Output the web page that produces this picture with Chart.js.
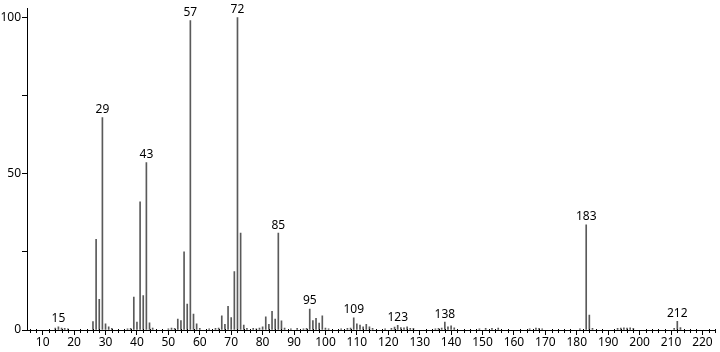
<!DOCTYPE html>
<html>
<head>
<meta charset="utf-8">
<script src="https://cdn.jsdelivr.net/npm/chart.js@4"></script>
<style>
    html, body { margin: 0; padding: 0; background: #fff; }
    #wrap { width: 720px; height: 352px; position: relative; }
</style>
</head>
<body>
<div id="wrap"><canvas id="spectrum"></canvas></div>
<script>
// m/z values and relative intensities
const mz = [14, 15, 16, 17, 18, 26, 27, 28, 29, 30, 31, 32, 37, 38, 39, 40, 41, 42, 43, 44, 45,
    50, 51, 52, 53, 54, 55, 56, 57, 58, 59, 60, 63, 65, 66, 67, 68, 69, 70, 71, 72, 73, 74, 75,
    77, 78, 79, 80, 81, 82, 83, 84, 85, 86, 87, 89, 91, 93, 94, 95, 96, 97, 98, 99, 100, 101,
    105, 107, 108, 109, 110, 111, 112, 113, 114, 115, 119, 121, 122, 123, 124, 125, 126, 127, 128,
    135, 136, 137, 138, 139, 140, 141, 149, 151, 153, 155, 165, 167, 168, 169, 181, 183, 184, 185,
    193, 194, 195, 196, 197, 198, 211, 212, 213];
const intensity = [0.6, 1.0, 0.6, 0.5, 0.4, 2.7, 29, 9.8, 68, 2.0, 1.0, 0.5, 0.4, 0.5, 10.5, 2.5, 41, 11, 53.6, 2.3, 0.6,
    0.4, 0.6, 0.5, 3.5, 3.0, 25, 8.3, 99, 5.1, 2.0, 0.5, 0.4, 0.5, 0.6, 4.5, 1.8, 7.6, 4.0, 18.7, 100, 31, 1.6, 0.5,
    0.5, 0.4, 0.6, 1.0, 4.2, 1.8, 6.0, 3.5, 31, 2.9, 0.6, 0.4, 0.5, 0.4, 0.5, 6.7, 3.0, 3.7, 2.2, 4.5, 0.6, 0.4,
    0.4, 0.5, 0.6, 3.9, 2.0, 1.6, 1.0, 1.8, 1.0, 0.5, 0.4, 0.5, 0.9, 1.5, 0.8, 0.7, 1.0, 0.5, 0.5,
    0.4, 0.5, 0.6, 2.5, 1.0, 1.3, 0.7, 0.4, 0.5, 0.5, 0.6, 0.4, 0.6, 0.5, 0.4, 0.4, 33.7, 4.8, 0.5,
    0.5, 0.6, 0.7, 0.6, 0.7, 0.5, 0.5, 2.8, 0.8];
// peaks that carry their m/z above them
const labelledPeaks = [15, 29, 43, 57, 72, 85, 95, 109, 123, 138, 183, 212];
const xTicks = [10, 20, 30, 40, 50, 60, 70, 80, 90, 100, 110, 120, 130, 140, 150, 160, 170, 180, 190, 200, 210, 220];
const yTicks = [0, 25, 50, 75, 100];
const yLabelled = [0, 50, 100];

const FONT = '"Noto Sans", sans-serif';

const peakLabels = {
    id: 'peakLabels',
    afterDatasetsDraw(chart) {
        const ctx = chart.ctx;
        const xs = chart.scales.x;
        const ys = chart.scales.y;
        ctx.save();
        ctx.font = '12px ' + FONT;
        ctx.fillStyle = '#000';
        ctx.textAlign = 'center';
        ctx.textBaseline = 'bottom';
        labelledPeaks.forEach(m => {
            const i = mz.indexOf(m);
            if (i < 0) return;
            ctx.fillText(String(m), xs.getPixelForValue(m), ys.getPixelForValue(intensity[i]) - 2);
        });
        ctx.restore();
    }
};

// small ticks every 2 units along the x axis
const minorTicks = {
    id: 'minorTicks',
    afterDraw(chart) {
        const ctx = chart.ctx;
        const xs = chart.scales.x;
        const y0 = chart.chartArea.bottom;
        ctx.save();
        ctx.strokeStyle = '#000';
        ctx.lineWidth = 1;
        ctx.beginPath();
        for (let v = 6; v <= 224; v += 2) {
            if (v % 10 === 0) continue;
            const x = Math.round(xs.getPixelForValue(v)) + 0.5;
            ctx.moveTo(x, y0 - 1);
            ctx.lineTo(x, y0 + 3);
        }
        ctx.stroke();
        ctx.restore();
    }
};

new Chart(document.getElementById('spectrum'), {
    type: 'bar',
    data: {
        datasets: [{
            data: mz.map((m, i) => ({ x: m, y: intensity[i] })),
            backgroundColor: '#5a5a5a',
            borderWidth: 0,
            barThickness: 1
        }]
    },
    options: {
        responsive: true,
        maintainAspectRatio: false,
        animation: false,
        events: [],
        layout: { padding: { left: 0, right: 5, top: 8, bottom: 0 } },
        plugins: {
            legend: { display: false },
            tooltip: { enabled: false }
        },
        scales: {
            x: {
                type: 'linear',
                offset: false,
                min: 5,
                max: 224,
                afterBuildTicks: s => { s.ticks = xTicks.map(v => ({ value: v })); },
                afterFit: s => { s.height = 22; },
                grid: { drawOnChartArea: false, offset: false, color: '#000', tickLength: 5 },
                border: { color: '#000', width: 1 },
                ticks: {
                    color: '#000',
                    font: { family: FONT, size: 12 },
                    padding: 0,
                    maxRotation: 0,
                    autoSkip: false
                }
            },
            y: {
                min: 0,
                max: 103,
                afterBuildTicks: s => { s.ticks = yTicks.map(v => ({ value: v })); },
                afterFit: s => { s.width = 27; },
                grid: { drawOnChartArea: false, color: '#000', tickLength: 5 },
                border: { color: '#000', width: 1 },
                ticks: {
                    color: '#000',
                    font: { family: FONT, size: 12 },
                    padding: 1,
                    callback: v => yLabelled.includes(v) ? String(v) : ''
                }
            }
        }
    },
    plugins: [peakLabels, minorTicks]
});
</script>
</body>
</html>
